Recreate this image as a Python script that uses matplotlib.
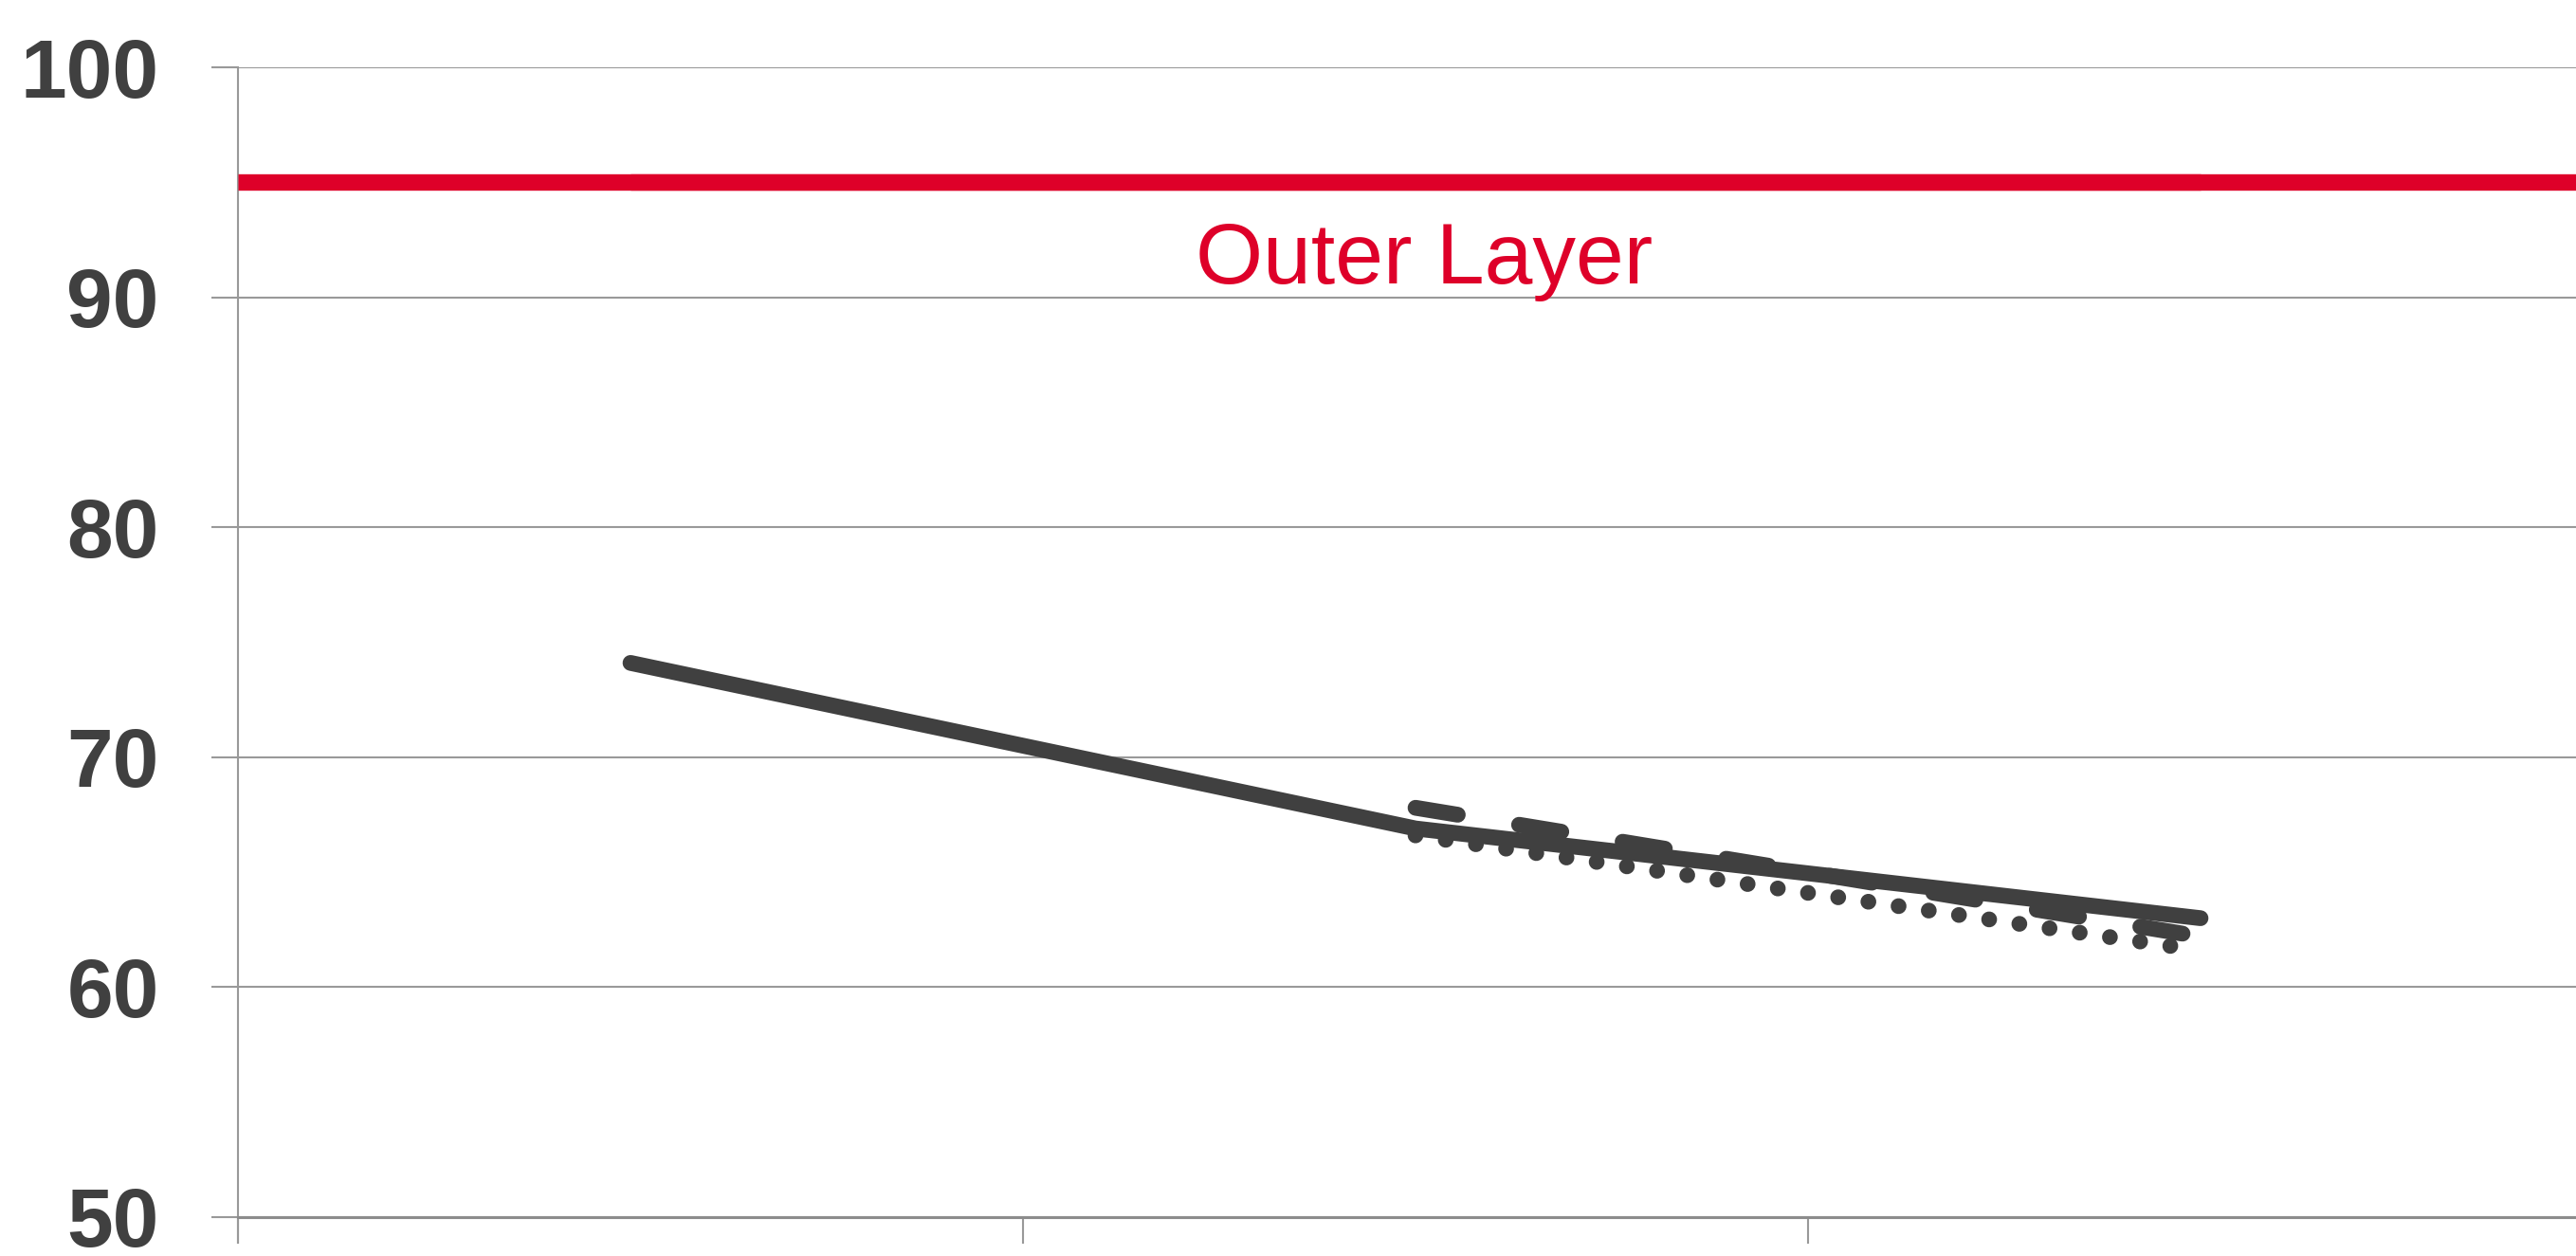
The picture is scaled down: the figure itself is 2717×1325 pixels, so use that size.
import matplotlib
matplotlib.use("Agg")
import matplotlib.pyplot as plt

# ---- data ----
y_ticks = [50, 60, 70, 80, 90, 100]
x_ticks = [0, 1, 2, 3]

target_x = [0.0, 3.0]
target_y = [95.0, 95.0]
target_short_x = [0.5, 2.5]
target_short_y = [95.0, 95.0]
target_label = "Outer Layer"

solid_x = [0.5, 1.5, 2.5]
solid_y = [74.1, 66.9, 63.0]

dashed_x = [1.5, 2.5]
dashed_y = [67.8, 62.2]

dotted_x = [1.5, 2.47]
dotted_y = [66.6, 61.75]

# ---- style ----
DARK = "#404040"
RED = "#DE0029"
GRID = "#999999"
plt.rcParams['font.family'] = ['Liberation Sans', 'DejaVu Sans']

W, H, DPI = 2717, 1325, 100
fig = plt.figure(figsize=(W / DPI, H / DPI), dpi=DPI)
left = 251 / W
bottom = 41 / H
top = (H - 71) / H
right = 2735 / W
ax = fig.add_axes([left, bottom, right - left, top - bottom])

ax.set_xlim(0, 3)
ax.set_ylim(50, 100)

ax.set_yticks(y_ticks)
ax.set_yticklabels([str(v) for v in y_ticks])
ax.set_xticks(x_ticks)
ax.set_xticklabels([])

ax.grid(axis='y', color=GRID, linewidth=1.5, zorder=0)
ax.grid(axis='x', visible=False)
for s in ['top', 'right']:
    ax.spines[s].set_visible(False)
ax.spines['left'].set_color(GRID)
ax.spines['left'].set_linewidth(1.5)
ax.spines['bottom'].set_color("#8c8c8c")
ax.spines['bottom'].set_linewidth(2.2)
ax.spines['left'].set_bounds(48.9, 100)

ax.tick_params(axis='y', length=20, width=1.5, color=GRID, pad=40,
               labelsize=63, labelcolor=DARK)
ax.tick_params(axis='x', length=20, width=1.5, color=GRID, direction='out')
for lbl in ax.get_yticklabels():
    lbl.set_fontweight('bold')

# red target lines
ax.plot(target_x, target_y, color=RED, linewidth=12.5, solid_capstyle='butt',
        zorder=3, clip_on=False)
ax.plot(target_short_x, target_short_y, color=RED, linewidth=12.5,
        solid_capstyle='butt', zorder=3)
ax.text(1.511, 91.55, target_label, color=RED, fontsize=65.7, ha='center',
        va='center', zorder=4)

# dark series
ax.plot(solid_x, solid_y, color=DARK, linewidth=12, solid_capstyle='round',
        solid_joinstyle='round', zorder=4)
ax.plot(dashed_x, dashed_y, color=DARK, linewidth=12,
        linestyle=(0, (2.71, 3.93)), dash_capstyle='round', zorder=4)
ax.plot(dotted_x, dotted_y, color=DARK, linewidth=12,
        linestyle=(0, (0.001, 1.93)), dash_capstyle='round', zorder=4)

fig.savefig("out.png", dpi=DPI)
